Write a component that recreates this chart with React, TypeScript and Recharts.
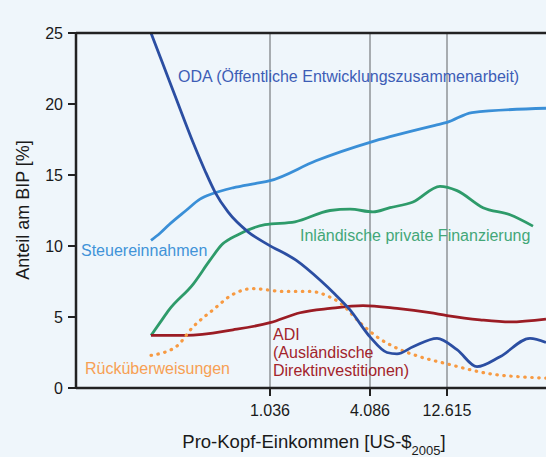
import React from "react";
import { LineChart, Line, XAxis, YAxis, ReferenceLine } from "recharts";

// x is a schematic income position (the original axis is only roughly logarithmic)
const incomeTicks = [194, 294, 371];
const incomeTickLabels = ["1.036", "4.086", "12.615"];
const groupCentres = [131.5, 243.5, 330.5, 423.5];
const groupLabels = ["LIC", "LMIC", "UMIC", "HIC"];
const yTicks = [0, 5, 10, 15, 20, 25];

const odaX = [70, 75, 87, 100, 117, 129, 139, 152, 172, 192, 220, 244, 259, 274, 294, 311, 321, 337, 361, 381, 401, 424, 454, 470];
const odaY = [25.9, 25.0, 22.8, 20.4, 17.3, 15.3, 13.8, 12.4, 11.0, 10.1, 9.0, 7.6, 6.6, 5.5, 3.6, 2.5, 2.4, 2.9, 3.5, 2.7, 1.5, 2.2, 3.5, 3.2];

const taxX = [75, 84, 93, 110, 124, 137, 157, 179, 194, 240, 294, 314, 359, 371, 396, 470];
const taxY = [10.4, 10.9, 11.5, 12.5, 13.3, 13.7, 14.1, 14.4, 14.6, 16.0, 17.3, 17.7, 18.5, 18.7, 19.4, 19.7];

const privX = [75, 84, 93, 117, 134, 146, 162, 189, 219, 254, 274, 297, 314, 337, 364, 381, 407, 434, 457];
const privY = [3.7, 4.6, 5.5, 7.3, 9.0, 10.1, 10.8, 11.5, 11.7, 12.5, 12.6, 12.4, 12.7, 13.1, 14.2, 13.9, 12.7, 12.2, 11.4];

const fdiX = [75, 110, 157, 194, 224, 254, 287, 321, 354, 371, 404, 434, 470];
const fdiY = [3.7, 3.7, 4.1, 4.6, 5.3, 5.6, 5.8, 5.6, 5.3, 5.1, 4.8, 4.65, 4.85];

const remitX = [75, 100, 117, 137, 157, 177, 207, 234, 254, 264, 284, 301, 321, 344, 371, 414, 470];
const remitY = [2.3, 2.9, 4.3, 5.5, 6.6, 7.0, 6.8, 6.8, 6.4, 6.0, 4.6, 3.6, 2.8, 2.2, 1.7, 1.0, 0.7];

const toPoints = (xs: number[], ys: number[]) => xs.map((x, i) => ({ x, y: ys[i] }));

const FONT = "'Liberation Sans', Arial, sans-serif";
const BG = "#eff6fb";
const AXIS = "#222222";

export default function App() {
  return (
    <div style={{ position: "absolute", left: 0, top: 0, width: 546, height: 457, background: BG, fontFamily: FONT, overflow: "hidden" }}>
      <LineChart width={546} height={457} margin={{ top: 0, right: 0, bottom: 0, left: 0 }}>
        <XAxis
          xAxisId="top"
          orientation="top"
          type="number"
          dataKey="x"
          domain={[0, 470]}
          ticks={groupCentres}
          height={33}
          axisLine={{ stroke: AXIS, strokeWidth: 2.5 }}
          tickLine={false}
          tick={(p: any) => (
            <text x={p.x} y={24} textAnchor="middle" fontSize={17} fill="#1a1a1a" fontFamily={FONT}>
              {groupLabels[groupCentres.indexOf(p.payload.value)]}
            </text>
          )}
        />
        <XAxis
          xAxisId="bottom"
          type="number"
          dataKey="x"
          domain={[0, 470]}
          ticks={incomeTicks}
          height={69}
          axisLine={{ stroke: AXIS, strokeWidth: 2.5 }}
          tickLine={{ stroke: AXIS, strokeWidth: 2 }}
          tickSize={8}
          tick={(p: any) => (
            <text x={p.x} y={416} textAnchor="middle" fontSize={16} fill="#1a1a1a" fontFamily={FONT}>
              {incomeTickLabels[incomeTicks.indexOf(p.payload.value)]}
            </text>
          )}
        />
        <YAxis
          type="number"
          domain={[0, 25]}
          ticks={yTicks}
          allowDataOverflow
          width={76}
          axisLine={{ stroke: AXIS, strokeWidth: 2.5 }}
          tickLine={{ stroke: AXIS, strokeWidth: 2 }}
          tickSize={8}
          tick={(p: any) => (
            <text x={63} y={p.y + 5.7} textAnchor="end" fontSize={16} fill="#1a1a1a" fontFamily={FONT}>
              {p.payload.value}
            </text>
          )}
        />
        {incomeTicks.map((t) => (
          <ReferenceLine key={t} xAxisId="bottom" x={t} stroke="#8f9397" strokeWidth={1.5} />
        ))}
        <Line xAxisId="bottom" data={toPoints(taxX, taxY)} dataKey="y" type="monotone" stroke="#3a8fd7" strokeWidth={2.8} dot={false} activeDot={false} isAnimationActive={false} />
        <Line xAxisId="bottom" data={toPoints(privX, privY)} dataKey="y" type="monotone" stroke="#2e9b6a" strokeWidth={2.8} dot={false} activeDot={false} isAnimationActive={false} />
        <Line xAxisId="bottom" data={toPoints(fdiX, fdiY)} dataKey="y" type="monotone" stroke="#9b1c24" strokeWidth={2.8} dot={false} activeDot={false} isAnimationActive={false} />
        <Line xAxisId="bottom" data={toPoints(remitX, remitY)} dataKey="y" type="monotone" stroke="#f79a42" strokeWidth={3.2} strokeDasharray="0.5 6.5" strokeLinecap="round" dot={false} activeDot={false} isAnimationActive={false} />
        <Line xAxisId="bottom" data={toPoints(odaX, odaY)} dataKey="y" type="monotone" stroke="#2b4ea2" strokeWidth={2.8} dot={false} activeDot={false} isAnimationActive={false} />
      </LineChart>
      <svg width={546} height={457} style={{ position: "absolute", left: 0, top: 0, pointerEvents: "none" }} fontFamily={FONT}>
        <text x={178} y={82} fontSize={16} fill="#3d5db6">ODA (Öffentliche Entwicklungszusammenarbeit)</text>
        <text x={81} y={256} fontSize={16} fill="#4193d8">Steuereinnahmen</text>
        <text x={300} y={241} fontSize={16} fill="#43a778">Inländische private Finanzierung</text>
        <text x={85} y={374} fontSize={16} fill="#f7a053">Rücküberweisungen</text>
        <text x={273} y={340} fontSize={16} fill="#a3242b">ADI</text>
        <text x={273} y={358} fontSize={16} fill="#a3242b">(Ausländische</text>
        <text x={273} y={376} fontSize={16} fill="#a3242b">Direktinvestitionen)</text>
        <text transform="translate(29,210) rotate(-90)" textAnchor="middle" fontSize={18} fill="#1a1a1a">Anteil am BIP [%]</text>
        <text x={314} y={448} textAnchor="middle" fontSize={18.5} fill="#1a1a1a">
          Pro-Kopf-Einkommen [US-$<tspan fontSize={13} dy={7}>2005</tspan><tspan dy={-7}>]</tspan>
        </text>
      </svg>
    </div>
  );
}
